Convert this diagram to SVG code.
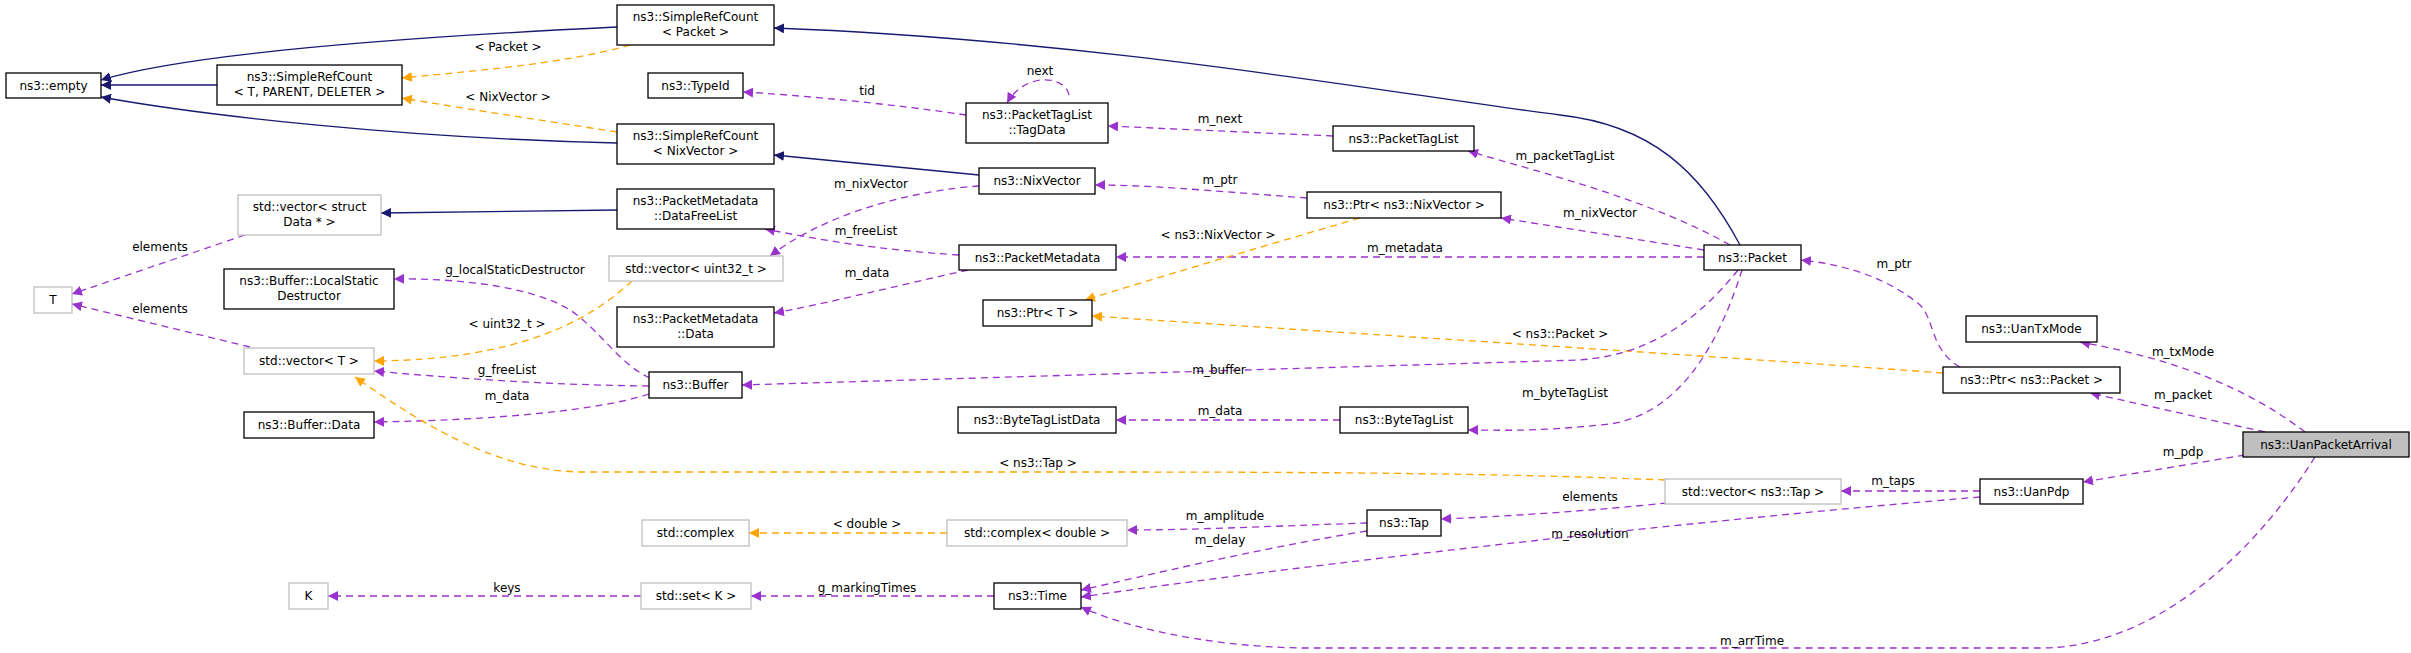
<svg xmlns="http://www.w3.org/2000/svg" width="2411" height="653" viewBox="0 0 2411 653">
<style>
text{font-family:"DejaVu Sans",sans-serif;font-size:12px;fill:#000}
.n rect{fill:#fff;stroke:#000;stroke-width:1.3}
.g rect{fill:#fff;stroke:#bfbfbf;stroke-width:1.3}
.n text,.g text{text-anchor:middle}
.c path{fill:none}
.b{stroke:#191970;stroke-width:1.3;marker-end:url(#ab)}
.p{stroke:#9a32cd;stroke-width:1.3;stroke-dasharray:7,5;marker-end:url(#ap)}
.o{stroke:#ffa500;stroke-width:1.3;stroke-dasharray:7,5;marker-end:url(#ao)}
.l{text-anchor:middle}
</style>
<defs>
<marker id="ab" viewBox="0 0 10 10" refX="10" refY="5" markerWidth="10" markerHeight="10" markerUnits="userSpaceOnUse" orient="auto"><path d="M0,0 L10,5 L0,10 z" fill="#191970"/></marker>
<marker id="ap" viewBox="0 0 10 10" refX="10" refY="5" markerWidth="10" markerHeight="10" markerUnits="userSpaceOnUse" orient="auto"><path d="M0,0 L10,5 L0,10 z" fill="#9a32cd"/></marker>
<marker id="ao" viewBox="0 0 10 10" refX="10" refY="5" markerWidth="10" markerHeight="10" markerUnits="userSpaceOnUse" orient="auto"><path d="M0,0 L10,5 L0,10 z" fill="#ffa500"/></marker>
</defs>
<rect width="2411" height="653" fill="#fff"/>
<g class="c" id="connectors">
<path class="b" d="M617,27 C450,35 200,50 101,80"/>
<path class="b" d="M217,85 L101,85"/>
<path class="b" d="M617,143 C400,138 200,115 101,97"/>
<path class="o" d="M630,45 C560,65 460,72 402,78"/>
<path class="o" d="M617,132 C540,120 460,108 402,98"/>
<path class="b" d="M1740,245 C1700,170 1650,125 1560,115 C1400,95 1100,40 774,28"/>
<path class="b" d="M979,175 L774,155"/>
<path class="b" d="M617,210 L381,213"/>
<path class="p" d="M966,115 C900,105 800,95 743,92"/>
<path class="p" d="M1069,95 C1065,75 1025,72 1007,103"/>
<path class="p" d="M1333,136 L1108,126"/>
<path class="p" d="M1730,245 C1650,200 1550,175 1468,151"/>
<path class="p" d="M1704,250 L1501,218"/>
<path class="p" d="M1704,257 L1116,257"/>
<path class="p" d="M1307,198 C1200,190 1150,185 1095,185"/>
<path class="o" d="M1360,218 C1250,250 1150,280 1085,300"/>
<path class="o" d="M1943,373 C1700,355 1300,330 1092,316"/>
<path class="p" d="M979,186 C920,190 830,210 770,256"/>
<path class="p" d="M959,255 C880,250 820,240 765,229"/>
<path class="p" d="M968,270 C900,285 820,305 774,313"/>
<path class="p" d="M650,378 C620,365 600,330 570,310 C530,285 450,278 394,279"/>
<path class="o" d="M632,281 C590,320 520,360 374,361"/>
<path class="p" d="M649,386 C550,385 450,378 374,371"/>
<path class="p" d="M649,394 C600,410 500,420 374,422"/>
<path class="p" d="M245,235 L72,294"/>
<path class="p" d="M250,347 L72,304"/>
<path class="p" d="M1738,270 C1690,330 1640,355 1580,360 L742,385"/>
<path class="p" d="M1742,270 C1720,340 1680,420 1600,425 C1530,432 1500,430 1468,430"/>
<path class="p" d="M1340,420 L1116,420"/>
<path class="o" d="M1665,480 C1500,473 1300,472 1100,472 L580,472 C500,470 430,430 355,377"/>
<path class="p" d="M1667,503 C1600,510 1500,517 1441,519"/>
<path class="p" d="M1980,491 L1841,491"/>
<path class="p" d="M1980,497 C1700,520 1300,565 1081,597"/>
<path class="p" d="M1367,523 C1300,525 1200,530 1127,530"/>
<path class="p" d="M1367,531 C1250,550 1150,575 1081,590"/>
<path class="o" d="M947,533 L749,533"/>
<path class="p" d="M994,596 L751,596"/>
<path class="p" d="M641,596 L328,596"/>
<path class="p" d="M2305,432 C2250,390 2180,360 2080,342"/>
<path class="p" d="M2265,432 L2090,393"/>
<path class="p" d="M2245,455 L2083,482"/>
<path class="p" d="M2315,457 C2250,560 2150,648 2040,648 L1300,648 C1200,646 1120,625 1081,607"/>
<path class="p" d="M1960,367 C1930,350 1935,320 1920,305 C1890,280 1850,265 1801,260"/>
<text class="l" x="508" y="51">&lt; Packet &gt;</text>
<text class="l" x="508" y="101">&lt; NixVector &gt;</text>
<text class="l" x="867" y="95">tid</text>
<text class="l" x="1040" y="75">next</text>
<text class="l" x="1220" y="123">m_next</text>
<text class="l" x="1565" y="160">m_packetTagList</text>
<text class="l" x="1600" y="217">m_nixVector</text>
<text class="l" x="1405" y="252">m_metadata</text>
<text class="l" x="1220" y="184">m_ptr</text>
<text class="l" x="1218" y="239">&lt; ns3::NixVector &gt;</text>
<text class="l" x="1560" y="338">&lt; ns3::Packet &gt;</text>
<text class="l" x="871" y="188">m_nixVector</text>
<text class="l" x="866" y="235">m_freeList</text>
<text class="l" x="867" y="277">m_data</text>
<text class="l" x="515" y="274">g_localStaticDestructor</text>
<text class="l" x="507" y="328">&lt; uint32_t &gt;</text>
<text class="l" x="507" y="374">g_freeList</text>
<text class="l" x="507" y="400">m_data</text>
<text class="l" x="160" y="251">elements</text>
<text class="l" x="160" y="313">elements</text>
<text class="l" x="1219" y="374">m_buffer</text>
<text class="l" x="1565" y="397">m_byteTagList</text>
<text class="l" x="1220" y="415">m_data</text>
<text class="l" x="1038" y="467">&lt; ns3::Tap &gt;</text>
<text class="l" x="1590" y="501">elements</text>
<text class="l" x="1893" y="485">m_taps</text>
<text class="l" x="1590" y="538">m_resolution</text>
<text class="l" x="1225" y="520">m_amplitude</text>
<text class="l" x="1220" y="544">m_delay</text>
<text class="l" x="867" y="528">&lt; double &gt;</text>
<text class="l" x="867" y="592">g_markingTimes</text>
<text class="l" x="507" y="592">keys</text>
<text class="l" x="2183" y="356">m_txMode</text>
<text class="l" x="2183" y="399">m_packet</text>
<text class="l" x="2183" y="456">m_pdp</text>
<text class="l" x="1752" y="645">m_arrTime</text>
<text class="l" x="1894" y="268">m_ptr</text>
</g>
<g class="n" id="empty"><rect x="6" y="73" width="95" height="25"/><text x="53.5" y="90">ns3::empty</text></g>
<g class="n" id="srcTPD"><rect x="217" y="65" width="185" height="40"/><text x="309.5" y="81">ns3::SimpleRefCount</text><text x="309.5" y="96">&lt; T, PARENT, DELETER &gt;</text></g>
<g class="n" id="srcPacket"><rect x="617" y="5" width="157" height="40"/><text x="695.5" y="21">ns3::SimpleRefCount</text><text x="695.5" y="36">&lt; Packet &gt;</text></g>
<g class="n" id="typeid"><rect x="648" y="73" width="95" height="25"/><text x="695.5" y="90">ns3::TypeId</text></g>
<g class="n" id="srcNix"><rect x="617" y="124" width="157" height="40"/><text x="695.5" y="140">ns3::SimpleRefCount</text><text x="695.5" y="155">&lt; NixVector &gt;</text></g>
<g class="g" id="vecData"><rect x="238" y="195" width="143" height="40"/><text x="309.5" y="211">std::vector&lt; struct</text><text x="309.5" y="226">Data * &gt;</text></g>
<g class="n" id="dataFreeList"><rect x="617" y="189" width="157" height="40"/><text x="695.5" y="205">ns3::PacketMetadata</text><text x="695.5" y="220">::DataFreeList</text></g>
<g class="g" id="T"><rect x="34" y="287" width="38" height="26"/><text x="53" y="304">T</text></g>
<g class="n" id="lsd"><rect x="224" y="269" width="170" height="40"/><text x="309" y="285">ns3::Buffer::LocalStatic</text><text x="309" y="300">Destructor</text></g>
<g class="g" id="vecU32"><rect x="609" y="256" width="174" height="25"/><text x="696" y="273">std::vector&lt; uint32_t &gt;</text></g>
<g class="n" id="pmData"><rect x="617" y="307" width="157" height="40"/><text x="695.5" y="323">ns3::PacketMetadata</text><text x="695.5" y="338">::Data</text></g>
<g class="g" id="vecT"><rect x="244" y="348" width="130" height="26"/><text x="309" y="365">std::vector&lt; T &gt;</text></g>
<g class="n" id="bufData"><rect x="244" y="412" width="130" height="26"/><text x="309" y="429">ns3::Buffer::Data</text></g>
<g class="n" id="buffer"><rect x="649" y="372" width="93" height="26"/><text x="695.5" y="389">ns3::Buffer</text></g>
<g class="g" id="complex"><rect x="642" y="520" width="107" height="26"/><text x="695.5" y="537">std::complex</text></g>
<g class="g" id="K"><rect x="289" y="583" width="39" height="26"/><text x="308.5" y="600">K</text></g>
<g class="g" id="setK"><rect x="641" y="583" width="110" height="26"/><text x="696" y="600">std::set&lt; K &gt;</text></g>
<g class="n" id="tagData"><rect x="966" y="103" width="142" height="40"/><text x="1037" y="119">ns3::PacketTagList</text><text x="1037" y="134">::TagData</text></g>
<g class="n" id="packetTagList"><rect x="1333" y="126" width="141" height="25"/><text x="1403.5" y="143">ns3::PacketTagList</text></g>
<g class="n" id="nixVector"><rect x="979" y="168" width="116" height="26"/><text x="1037" y="185">ns3::NixVector</text></g>
<g class="n" id="ptrNix"><rect x="1307" y="192" width="194" height="26"/><text x="1404" y="209">ns3::Ptr&lt; ns3::NixVector &gt;</text></g>
<g class="n" id="packetMetadata"><rect x="959" y="245" width="157" height="25"/><text x="1037.5" y="262">ns3::PacketMetadata</text></g>
<g class="n" id="ptrT"><rect x="983" y="300" width="109" height="26"/><text x="1037.5" y="317">ns3::Ptr&lt; T &gt;</text></g>
<g class="n" id="byteTagListData"><rect x="958" y="407" width="158" height="26"/><text x="1037" y="424">ns3::ByteTagListData</text></g>
<g class="n" id="byteTagList"><rect x="1340" y="407" width="128" height="26"/><text x="1404" y="424">ns3::ByteTagList</text></g>
<g class="g" id="complexDouble"><rect x="947" y="520" width="180" height="26"/><text x="1037" y="537">std::complex&lt; double &gt;</text></g>
<g class="n" id="tap"><rect x="1367" y="510" width="74" height="26"/><text x="1404" y="527">ns3::Tap</text></g>
<g class="n" id="time"><rect x="994" y="583" width="87" height="26"/><text x="1037.5" y="600">ns3::Time</text></g>
<g class="n" id="packet"><rect x="1704" y="245" width="97" height="25"/><text x="1752.5" y="262">ns3::Packet</text></g>
<g class="n" id="uanTxMode"><rect x="1966" y="316" width="131" height="26"/><text x="2031.5" y="333">ns3::UanTxMode</text></g>
<g class="n" id="ptrPacket"><rect x="1943" y="367" width="177" height="26"/><text x="2031.5" y="384">ns3::Ptr&lt; ns3::Packet &gt;</text></g>
<g class="n" id="uanPacketArrival"><rect x="2243" y="432" width="166" height="25" style="fill:#bfbfbf"/><text x="2326" y="449">ns3::UanPacketArrival</text></g>
<g class="g" id="vecTap"><rect x="1665" y="479" width="176" height="25"/><text x="1753" y="496">std::vector&lt; ns3::Tap &gt;</text></g>
<g class="n" id="uanPdp"><rect x="1980" y="479" width="103" height="25"/><text x="2031.5" y="496">ns3::UanPdp</text></g>
</svg>
